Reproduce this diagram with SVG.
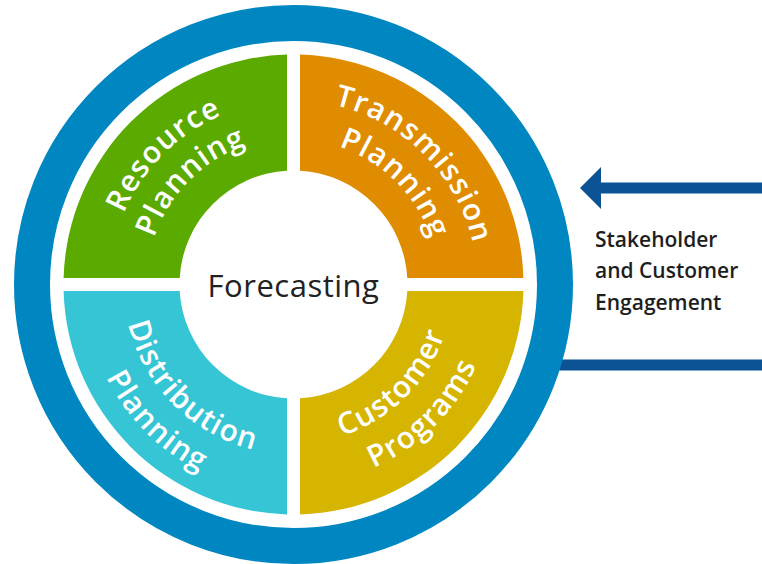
<svg xmlns="http://www.w3.org/2000/svg" width="762" height="564" viewBox="0 0 762 564">
<style>
.q{stroke:none}
.lbl{font-family:"Open Sans","Noto Sans",sans-serif;font-weight:600;font-size:30px;fill:#ffffff;letter-spacing:1.2px}
.side{font-family:"Open Sans","Noto Sans",sans-serif;font-weight:600;font-size:21px;fill:#1e1e1e}
.center{font-family:"Open Sans","Noto Sans",sans-serif;font-weight:400;font-size:31px;fill:#222222;letter-spacing:0.5px}
.conn{stroke:#0b5395;stroke-width:11;fill:none}
</style>
<defs>
<marker id="ah" markerUnits="userSpaceOnUse" markerWidth="22" markerHeight="42" refX="0" refY="21" orient="auto" viewBox="0 0 22 42">
<path d="M0,0 L21,21 L0,42 Z" fill="#0b5395"/>
</marker>
<path id="pG1" d="M 109.5 284.5 A 184 184 0 0 1 293.5 100.5"/>
<path id="pG2" d="M 146.5 284.5 A 147 147 0 0 1 293.5 137.5"/>
<path id="pO1" d="M 293.5 100.5 A 184 184 0 0 1 477.5 284.5"/>
<path id="pO2" d="M 293.5 139.5 A 145 145 0 0 1 438.5 284.5"/>
<path id="pC1" d="M 123.5 284.5 A 170 170 0 0 0 293.5 454.5"/>
<path id="pC2" d="M 84.5 284.5 A 209 209 0 0 0 293.5 493.5"/>
<path id="pY1" d="M 293.5 443.5 A 159 159 0 0 0 452.5 284.5"/>
<path id="pY2" d="M 293.5 484.5 A 200 200 0 0 0 493.5 284.5"/>
</defs>
<rect width="762" height="564" fill="#ffffff"/>
<g id="connectors">
<line class="conn" x1="762" y1="188" x2="601" y2="188" marker-end="url(#ah)"/>
<line class="conn" x1="545" y1="365" x2="762" y2="365" stroke-width="10"/>
</g>
<g id="ring">
<circle cx="293.5" cy="284.5" r="261.5" fill="none" stroke="#0087c1" stroke-width="36"/>
</g>
<g id="resource-planning">
<path class="q" fill="#5aaa00" d="M 63.6 278 A 230 230 0 0 1 287 54.6 L 287 170.69 A 114 114 0 0 0 179.69 278 Z"/>
<text class="lbl" text-anchor="middle"><textPath href="#pG1" startOffset="50%">Resource</textPath></text>
<text class="lbl" text-anchor="middle"><textPath href="#pG2" startOffset="50%">Planning</textPath></text>
</g>
<g id="transmission-planning">
<path class="q" fill="#e08c00" d="M 300 54.6 A 230 230 0 0 1 523.4 278 L 407.31 278 A 114 114 0 0 0 300 170.69 Z"/>
<text class="lbl" text-anchor="middle"><textPath href="#pO1" startOffset="50%">Transmission</textPath></text>
<text class="lbl" text-anchor="middle"><textPath href="#pO2" startOffset="50%">Planning</textPath></text>
</g>
<g id="distribution-planning">
<path class="q" fill="#36c5d5" d="M 63.6 291 L 179.69 291 A 114 114 0 0 0 287 398.31 L 287 514.4 A 230 230 0 0 1 63.6 291 Z"/>
<text class="lbl" text-anchor="middle"><textPath href="#pC1" startOffset="50%">Distribution</textPath></text>
<text class="lbl" text-anchor="middle"><textPath href="#pC2" startOffset="50%">Planning</textPath></text>
</g>
<g id="customer-programs">
<path class="q" fill="#d5b500" d="M 300 514.4 L 300 398.31 A 114 114 0 0 0 407.31 291 L 523.4 291 A 230 230 0 0 1 300 514.4 Z"/>
<text class="lbl" text-anchor="middle"><textPath href="#pY1" startOffset="50%">Customer</textPath></text>
<text class="lbl" text-anchor="middle"><textPath href="#pY2" startOffset="50%">Programs</textPath></text>
</g>
<g id="forecasting">
<text class="center" x="293.5" y="297" text-anchor="middle">Forecasting</text>
</g>
<g id="stakeholder-label">
<text class="side" x="595" y="247">Stakeholder</text>
<text class="side" x="595" y="278">and Customer</text>
<text class="side" x="595" y="310">Engagement</text>
</g>
</svg>
